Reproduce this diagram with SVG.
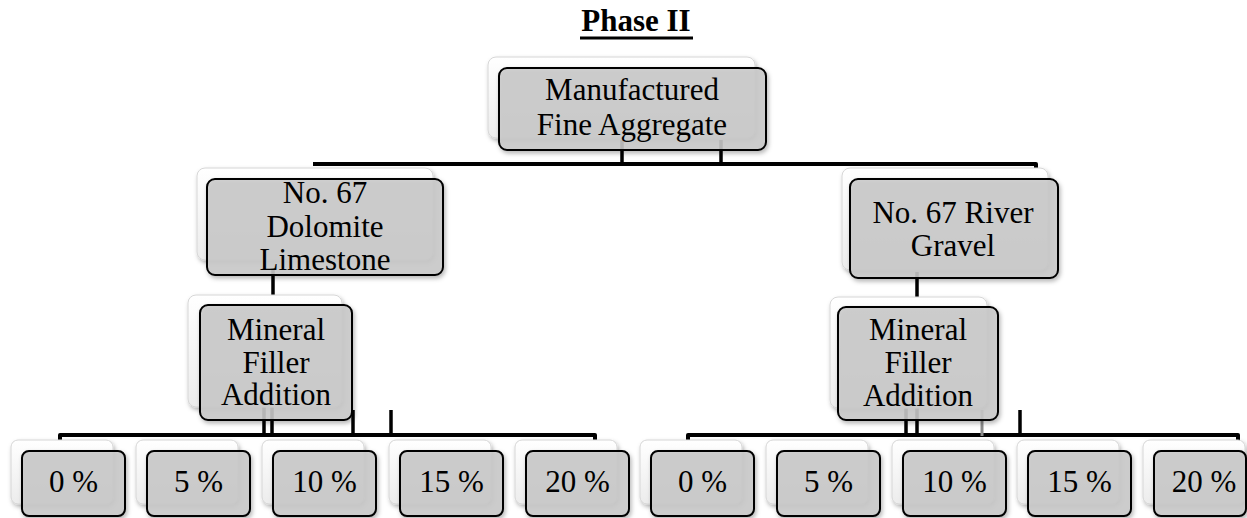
<svg xmlns="http://www.w3.org/2000/svg" width="1247" height="518" viewBox="0 0 1247 518">
<defs>
<filter id="sh" x="-10%" y="-10%" width="130%" height="140%">
<feDropShadow dx="1.5" dy="2.5" stdDeviation="2" flood-color="#000" flood-opacity="0.3"/>
</filter>
<linearGradient id="bg" x1="0" y1="0" x2="0" y2="1">
<stop offset="0" stop-color="#ffffff"/>
<stop offset="1" stop-color="#ececec"/>
</linearGradient>
</defs>
<style>
.back{fill:url(#bg);stroke:#d6d6d6;stroke-width:1;filter:url(#sh)}
.front{fill:#c9c9c9;fill-opacity:0.88;stroke:#000;stroke-width:2;filter:url(#sh)}
.t{font-family:"Liberation Serif","Times New Roman",serif;font-size:31px;fill:#000;text-anchor:middle}
.title{font-family:"Liberation Serif","Times New Roman",serif;font-size:31px;font-weight:bold;fill:#000;text-anchor:middle}
.c{stroke:#000;stroke-width:4;fill:none;stroke-linejoin:round}
.v{stroke:#000;stroke-width:3.5;fill:none}
.g{stroke:#8a8a8a;stroke-width:3;fill:none}
</style>
<g id="title">
<text class="title" x="636" y="31">Phase II</text>
<line x1="580" y1="38" x2="693" y2="38" stroke="#000" stroke-width="3"/>
</g>
<g id="connectors">
<line class="v" x1="622" y1="140" x2="622" y2="165"/>
<line class="v" x1="721" y1="140" x2="721" y2="165"/>
<path class="c" d="M313,164 H1036 V175"/>
<line class="v" x1="273" y1="270" x2="273" y2="296"/>
<line class="v" x1="917" y1="272" x2="917" y2="298"/>
<path class="c" d="M60,441 V435 H595 V441"/>
<line class="v" x1="264" y1="405" x2="264" y2="436"/>
<line class="v" x1="272" y1="405" x2="272" y2="436"/>
<line class="v" x1="353" y1="410" x2="353" y2="436"/>
<line class="v" x1="391" y1="410" x2="391" y2="436"/>
<path class="c" d="M688,441 V435 H1238 V441"/>
<line class="v" x1="906" y1="405" x2="906" y2="436"/>
<line class="v" x1="917" y1="405" x2="917" y2="436"/>
<line class="g" x1="982" y1="410" x2="982" y2="436"/>
<line class="v" x1="1020" y1="410" x2="1020" y2="436"/>
</g>
<g id="n-top">
<rect class="back" x="488" y="57" width="267" height="81" rx="8"/>
<rect class="front" x="499" y="68" width="267" height="82" rx="8"/>
<text class="t" x="632" y="100">Manufactured</text>
<text class="t" x="632" y="135">Fine Aggregate</text>
</g>
<g id="n-dolomite">
<rect class="back" x="197" y="168" width="236" height="92" rx="8"/>
<rect class="front" x="207" y="179" width="236" height="96" rx="8"/>
<text class="t" x="325" y="203">No. 67</text>
<text class="t" x="325" y="237">Dolomite</text>
<text class="t" x="325" y="270">Limestone</text>
</g>
<g id="n-gravel">
<rect class="back" x="842" y="168" width="206" height="102" rx="8"/>
<rect class="front" x="850" y="179" width="208" height="99" rx="8"/>
<text class="t" x="953" y="223">No. 67 River</text>
<text class="t" x="953" y="256">Gravel</text>
</g>
<g id="n-mineral-left">
<rect class="back" x="188" y="295" width="154" height="112" rx="8"/>
<rect class="front" x="200" y="305" width="152" height="115" rx="8"/>
<text class="t" x="276" y="340">Mineral</text>
<text class="t" x="276" y="373">Filler</text>
<text class="t" x="276" y="405">Addition</text>
</g>
<g id="n-mineral-right">
<rect class="back" x="830" y="297" width="157" height="111" rx="8"/>
<rect class="front" x="838" y="307" width="160" height="113" rx="8"/>
<text class="t" x="918" y="340">Mineral</text>
<text class="t" x="918" y="373">Filler</text>
<text class="t" x="918" y="406">Addition</text>
</g>
<g id="leaf-l0">
<rect class="back" x="11" y="440" width="102" height="64" rx="7"/>
<rect class="front" x="22" y="451" width="103" height="65" rx="7"/>
<text class="t" x="73.5" y="492">0 %</text>
</g>
<g id="leaf-l5">
<rect class="back" x="136" y="440" width="102" height="64" rx="7"/>
<rect class="front" x="147" y="451" width="103" height="65" rx="7"/>
<text class="t" x="198.5" y="492">5 %</text>
</g>
<g id="leaf-l10">
<rect class="back" x="262" y="440" width="102" height="64" rx="7"/>
<rect class="front" x="273" y="451" width="103" height="65" rx="7"/>
<text class="t" x="324.5" y="492">10 %</text>
</g>
<g id="leaf-l15">
<rect class="back" x="389" y="440" width="102" height="64" rx="7"/>
<rect class="front" x="400" y="451" width="103" height="65" rx="7"/>
<text class="t" x="451.5" y="492">15 %</text>
</g>
<g id="leaf-l20">
<rect class="back" x="515" y="440" width="102" height="64" rx="7"/>
<rect class="front" x="526" y="451" width="103" height="65" rx="7"/>
<text class="t" x="577.5" y="492">20 %</text>
</g>
<g id="leaf-r0">
<rect class="back" x="640" y="440" width="102" height="64" rx="7"/>
<rect class="front" x="651" y="451" width="103" height="65" rx="7"/>
<text class="t" x="702.5" y="492">0 %</text>
</g>
<g id="leaf-r5">
<rect class="back" x="766" y="440" width="102" height="64" rx="7"/>
<rect class="front" x="777" y="451" width="103" height="65" rx="7"/>
<text class="t" x="828.5" y="492">5 %</text>
</g>
<g id="leaf-r10">
<rect class="back" x="892" y="440" width="102" height="64" rx="7"/>
<rect class="front" x="903" y="451" width="103" height="65" rx="7"/>
<text class="t" x="954.5" y="492">10 %</text>
</g>
<g id="leaf-r15">
<rect class="back" x="1017" y="440" width="102" height="64" rx="7"/>
<rect class="front" x="1028" y="451" width="103" height="65" rx="7"/>
<text class="t" x="1079.5" y="492">15 %</text>
</g>
<g id="leaf-r20">
<rect class="back" x="1143" y="440" width="102" height="64" rx="7"/>
<rect class="front" x="1154" y="451" width="92" height="65" rx="7"/>
<text class="t" x="1204" y="492">20 %</text>
</g>
</svg>
